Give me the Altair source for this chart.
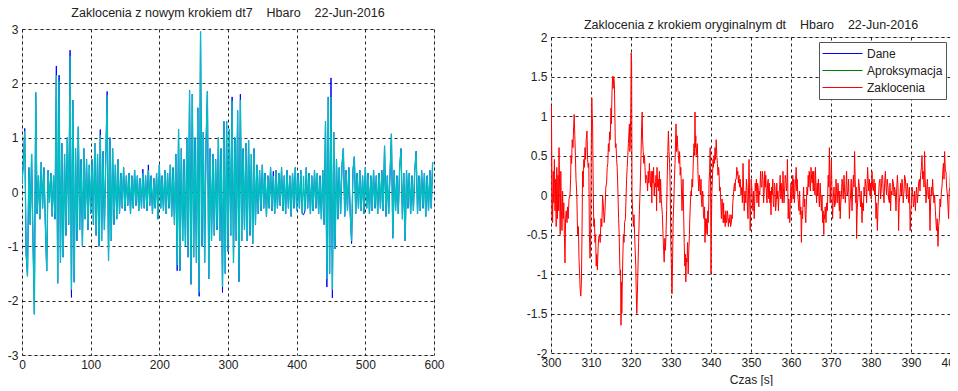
import altair as alt
import pandas as pd

# ---------------- left panel: disturbance with new step dt7 (2 s sampling) ----------------
krok_l = 2
zakl_nowy = [
    0.15, 0.55, 1.12, -1.1, -1.55, 0.45, -0.6, 0.7, -0.9, -2.25,
    1.83, -0.4, 0.3, -0.5, 0.55, -0.3, 0.45, -0.6, -1.45, 0.4,
    -0.2, 0.35, -0.45, 0.3, -0.5, 2.15, -1.68, 2.05, -1.3, 0.9,
    -1.2, 0.7, -0.8, 1.0, -0.6, 2.5, -1.8, 1.69, -1.66, 0.8,
    -0.9, 1.2, -0.7, 0.6, -1.0, 0.8, -0.5, 0.6, -0.7, 0.5,
    -0.4, 0.6, -0.6, 0.9, -0.8, 0.7, -1.0, 1.05, -0.9, 0.75,
    -0.7, 0.6, 1.78, -1.27, 1.0, -0.9, 0.8, -0.6, 0.5, -0.5,
    0.6, -0.4, 0.35, -0.3, 0.45, -0.35, 0.3, -0.25, 0.35, -0.4,
    0.3, -0.3, 0.4, -0.25, 0.3, -0.35, 0.25, -0.3, 0.35, -0.3,
    0.3, -0.35, 0.4, -0.25, 0.3, -0.4, 0.25, -0.3, 0.35, -0.5,
    0.5, -0.3, 0.3, -0.35, 0.4, -0.4, 0.35, -0.3, 0.5, -0.45,
    0.45, -0.6, 0.7, -1.35, 1.15, -1.45, 0.8, -0.9, 0.6, -1.0,
    1.0, -1.2, 1.87, -1.7, 1.8, -1.2, 1.0, -1.3, 1.55, -1.85,
    2.95, -1.0, 1.1, -1.3, 0.9, 1.85, -1.6, 0.8, -0.9, 0.7,
    -0.8, 0.6, -0.7, 1.0, -0.9, 0.8, -1.75, 1.3, -1.5, 1.3,
    -1.1, 1.15, -0.8, 1.68, -1.3, 1.0, -0.9, 1.5, -1.65, 1.7,
    -0.9, 0.8, -0.7, 0.9, -0.9, 0.95, -0.8, 0.7, -0.95, 0.8,
    -0.6, 0.5, -0.4, 0.4, -0.35, 0.5, -0.3, 0.35, -0.45, 0.3,
    -0.3, 0.45, -0.35, 0.3, -0.4, 0.4, -0.3, 0.35, -0.25, 0.45,
    -0.35, 0.3, -0.4, 0.4, -0.3, 0.3, -0.45, 0.35, -0.3, 0.45,
    -0.35, 0.35, -0.3, 0.4, -0.4, 0.3, -0.35, 0.45, -0.3, 0.35,
    -0.4, 0.3, -0.35, 0.4, -0.3, 0.35, -0.4, 0.3, -0.5, 0.4,
    -0.6, 1.3, -1.6, 1.75, -1.5, 1.75, -1.8, 1.1, -1.05, 0.6,
    -0.5, 0.45, -0.4, 0.5, 0.8, -0.45, 0.4, -0.35, 0.45, -0.4,
    -0.9, 0.4, 0.65, -0.4, 0.35, -0.3, 0.4, -0.35, 0.3, -0.4,
    0.45, -0.3, 0.35, -0.4, 0.3, -0.35, 0.4, -0.3, 0.3, -0.4,
    0.35, -0.3, 0.4, -0.35, 0.85, -0.45, 0.3, -0.4, 0.35, 1.07,
    -0.85, 0.4, -0.35, 0.3, -0.4, 0.45, 0.8, -0.5, 0.35, -0.9,
    0.4, -0.3, 0.35, -0.4, 0.3, -0.35, 0.4, 0.75, -0.4, 0.3,
    -0.35, 0.4, -0.3, 0.35, -0.45, 0.3, -0.35, 0.4, -0.3, 0.55,
]
# original data ("Dane", blue) differs from the cyan series only at these samples
dane_rozne = {
    2: 1.17, 3: -1.16, 25: 2.32, 27: 2.15, 35: 2.61, 36: -1.94,
    57: 1.15, 62: 1.85, 113: -1.45, 129: -1.92, 146: -1.85,
    153: 1.75, 159: 1.8, 222: -1.75, 225: 2.1, 226: -1.95,
    88: 0.42, 92: 0.5, 183: 0.38, 205: -0.42, 240: -0.95,
}

# ---------------- right panel: disturbance with original step dt (300-400 s) ----------------
zakl_300_333 = [
    (300.0, -0.3), (300.1, 1.13), (300.25, 0.1), (300.4, -0.35), (300.55, 0.3), (300.7, -0.1),
    (300.85, 0.45), (301.0, -0.2), (301.15, 0.2), (301.3, -0.4), (301.45, 0.35), (301.6, -0.3),
    (301.75, 0.25), (301.9, -0.2), (302.0, 0.6), (302.15, 0.1), (302.3, -0.5), (302.45, 0.3),
    (302.6, -0.2), (302.75, -0.45), (302.9, 0.05), (303.05, -0.3), (303.2, -0.1), (303.35, -0.5),
    (303.5, -0.86), (303.65, -0.3), (303.8, -0.2), (304.0, -0.35), (304.15, -0.15), (304.3, -0.3),
    (304.5, -0.05), (304.75, 0.0), (304.9, 0.2), (305.0, 0.5), (305.15, 0.4), (305.3, 0.7),
    (305.5, 0.6), (305.65, 0.85), (305.8, 1.02), (305.95, 0.75), (306.1, 0.5), (306.25, 0.2),
    (306.45, 0.0), (306.65, -0.5), (306.85, -0.4), (307.0, -0.8), (307.15, -1.0), (307.3, -1.2),
    (307.45, -1.28), (307.6, -1.1), (307.75, -0.5), (307.9, 0.3), (308.05, 0.1), (308.2, 0.45),
    (308.35, 0.35), (308.5, 0.6), (308.65, 0.45), (308.8, 0.7), (309.0, 0.81), (309.15, 0.45),
    (309.3, 0.35), (309.45, 0.4), (309.6, -0.5), (309.75, -0.8), (309.9, -0.6), (310.05, 0.5),
    (310.2, 1.23), (310.3, 1.0), (310.4, 0.9), (310.55, 0.1), (310.7, -0.4), (310.85, -0.3),
    (311.0, -0.6), (311.15, -0.5), (311.3, -0.9), (311.45, -0.75), (311.6, -0.95), (311.75, -0.7),
    (311.9, -0.55), (312.1, -0.5), (312.3, -0.6), (312.5, -0.3), (312.7, -0.4), (312.9, 0.0),
    (313.1, -0.15), (313.3, -0.35), (313.5, -0.2), (313.7, 0.1), (313.9, 0.15), (314.05, 0.35),
    (314.2, 0.4), (314.35, 0.65), (314.5, 0.55), (314.65, 0.8), (314.8, 0.7), (315.0, 1.1),
    (315.1, 0.9), (315.25, 1.3), (315.4, 1.5), (315.55, 1.35), (315.7, 1.5), (315.85, 1.4),
    (316.0, 0.9), (316.1, 0.6), (316.25, 0.65), (316.4, 0.45), (316.55, 0.35), (316.75, 0.0),
    (316.9, -0.3), (317.05, -0.5), (317.2, -0.9), (317.3, -1.0), (317.4, -0.95), (317.5, -1.65),
    (317.6, -1.1), (317.7, -1.5), (317.8, -1.2), (317.95, -0.8), (318.1, -0.5), (318.25, -0.6),
    (318.4, -0.35), (318.6, -0.3), (318.75, -0.05), (318.9, 0.2), (319.05, 0.35), (319.2, 0.5),
    (319.35, 0.65), (319.5, 0.8), (319.6, 0.9), (319.7, 0.55), (319.8, 0.6), (319.95, 1.1),
    (320.05, 1.8), (320.15, 1.7), (320.25, 0.0), (320.4, -0.2), (320.6, -0.4), (320.75, -0.25),
    (320.9, -0.5), (321.05, -0.7), (321.2, -0.9), (321.3, -1.2), (321.45, -1.5), (321.6, -1.25),
    (321.75, -0.9), (321.9, -0.6), (322.1, -0.2), (322.3, 0.1), (322.5, 0.5), (322.65, 0.85),
    (322.8, 1.05), (322.9, 0.7), (323.05, 0.55), (323.2, 0.4), (323.35, 0.5), (323.5, 0.35),
    (323.65, 0.15), (323.8, 0.25), (324.0, 0.2), (324.15, 0.05), (324.3, 0.3), (324.45, 0.15),
    (324.6, 0.4), (324.75, 0.2), (324.9, 0.1), (325.05, 0.3), (325.2, -0.1), (325.35, 0.3),
    (325.5, 0.15), (325.65, 0.35), (325.8, 0.0), (325.95, 0.15), (326.1, 0.1), (326.25, 0.25),
    (326.4, -0.2), (326.5, 0.35), (326.65, 0.1), (326.8, 0.2), (326.95, 0.05), (327.1, 0.3),
    (327.25, -0.1), (327.4, 0.2), (327.55, -0.05), (327.7, -0.15), (327.85, -0.25), (328.0, -0.5),
    (328.15, -0.7), (328.3, -0.85), (328.45, -0.55), (328.6, -0.7), (328.75, -0.5), (328.9, -0.2),
    (329.05, 0.2), (329.2, 0.55), (329.35, 0.81), (329.5, 0.55), (329.65, 0.4), (329.8, 0.1),
    (329.95, -0.6), (330.1, -0.9), (330.25, -1.25), (330.4, -0.8), (330.55, -0.3), (330.7, -0.1),
    (330.85, 0.2), (331.0, 0.4), (331.15, 0.7), (331.25, 0.9), (331.4, 0.55), (331.55, 0.75),
    (331.7, 0.6), (331.85, 0.5), (332.0, 0.4), (332.15, 0.55), (332.3, 0.25), (332.45, 0.35),
    (332.6, 0.1), (332.75, -0.2), (332.9, 0.0),
]
zakl_333_366 = [
    (333.0, 0.2), (333.15, -0.2), (333.3, -0.6), (333.45, -0.9), (333.6, -0.75), (333.7, -1.1),
    (333.85, -0.8), (334.0, -0.85), (334.15, -0.6), (334.3, -1.0), (334.45, -0.7), (334.6, -0.5),
    (334.7, -0.3), (334.85, -0.1), (335.0, 0.05), (335.1, 0.0), (335.25, 0.2), (335.4, 0.1),
    (335.5, 0.3), (335.65, 0.55), (335.75, 0.65), (335.9, 0.5), (336.0, 1.05), (336.1, 0.6),
    (336.2, 0.75), (336.3, 0.5), (336.45, 0.6), (336.6, 0.65), (336.7, 0.35), (336.8, 0.2),
    (336.95, 0.05), (337.1, 0.25), (337.2, 0.15), (337.35, 0.0), (337.5, 0.2), (337.6, -0.05),
    (337.75, -0.15), (337.9, 0.05), (338.0, 0.0), (338.1, -0.25), (338.25, -0.3), (338.4, -0.15),
    (338.5, -0.6), (338.6, -0.3), (338.7, -0.5), (338.8, -0.3), (338.95, -0.45), (339.1, -0.5),
    (339.2, -0.2), (339.3, -0.35), (339.45, -0.1), (339.5, 0.15), (339.65, 0.3), (339.8, 0.6),
    (339.9, 0.1), (340.0, -1.0), (340.1, -0.4), (340.2, 0.0), (340.35, 0.2), (340.5, 0.45),
    (340.6, 0.35), (340.75, 0.5), (340.9, 0.4), (341.0, 0.6), (341.15, 0.45), (341.3, 0.7),
    (341.45, 0.5), (341.6, 0.4), (341.75, 0.25), (341.9, 0.35), (342.0, 0.3), (342.15, 0.05),
    (342.3, 0.1), (342.45, -0.1), (342.6, -0.3), (342.75, -0.05), (342.9, -0.15), (343.05, -0.35),
    (343.15, -0.1), (343.25, -0.35), (343.4, -0.25), (343.55, -0.4), (343.7, -0.2), (343.85, -0.35),
    (344.0, -0.3), (344.1, -0.2), (344.2, -0.25), (344.35, -0.4), (344.5, -0.3), (344.6, -0.35),
    (344.75, -0.25), (344.9, -0.4), (345.1, -0.35), (345.2, -0.25), (345.3, -0.3), (345.45, -0.1),
    (345.6, 0.0), (345.75, 0.1), (345.9, 0.15), (346.0, 0.05), (346.15, 0.2), (346.3, 0.2),
    (346.45, 0.35), (346.6, 0.25), (346.7, 0.3), (346.85, 0.15), (347.0, 0.25), (347.15, 0.1),
    (347.3, 0.2), (347.5, 0.0), (347.7, 0.1), (347.85, -0.1), (348.0, 0.4), (348.15, 0.1),
    (348.3, -0.2), (348.5, 0.05), (348.7, -0.1), (348.85, 0.2), (349.0, 0.1), (349.1, -0.15),
    (349.25, -0.3), (349.4, 0.1), (349.5, 0.45), (349.65, 0.0), (349.8, -0.45), (349.95, -0.1),
    (350.05, 0.2), (350.2, 0.1), (350.35, -0.1), (350.5, -0.2), (350.65, 0.05), (350.8, -0.3),
    (350.95, -0.05), (351.05, 0.15), (351.2, 0.05), (351.35, 0.2), (351.5, -0.1), (351.65, 0.15),
    (351.8, 0.1), (351.95, -0.15), (352.05, 0.05), (352.2, 0.0), (352.3, 0.15), (352.4, 0.3),
    (352.55, 0.1), (352.7, 0.1), (352.85, 0.3), (353.0, 0.2), (353.15, -0.1), (353.3, 0.05),
    (353.45, 0.3), (353.55, 0.1), (353.7, 0.25), (353.85, 0.0), (354.0, -0.1), (354.15, 0.15),
    (354.3, 0.2), (354.45, -0.05), (354.55, 0.15), (354.7, -0.1), (354.85, 0.05), (355.0, -0.25),
    (355.15, 0.1), (355.3, 0.0), (355.45, 0.2), (355.55, -0.1), (355.7, -0.15), (355.85, 0.15),
    (356.0, 0.1), (356.15, -0.2), (356.3, -0.1), (356.45, 0.15), (356.55, -0.05), (356.7, 0.05),
    (356.85, -0.2), (357.0, 0.0), (357.15, 0.1), (357.3, 0.25), (357.45, -0.05), (357.55, 0.15),
    (357.7, 0.0), (357.85, -0.1), (358.0, 0.3), (358.1, 0.1), (358.25, -0.1), (358.4, 0.05),
    (358.55, 0.25), (358.7, 0.2), (358.85, 0.05), (359.0, 0.15), (359.1, 0.45), (359.2, 0.1),
    (359.3, -0.3), (359.45, -0.05), (359.55, -0.2), (359.7, -0.35), (359.85, -0.05), (360.0, 0.15),
    (360.15, -0.1), (360.3, 0.05), (360.45, 0.25), (360.55, -0.05), (360.7, 0.2), (360.85, -0.1),
    (361.0, 0.05), (361.15, 0.2), (361.3, 0.35), (361.45, 0.05), (361.55, 0.2), (361.7, 0.0),
    (361.85, -0.1), (362.0, -0.2), (362.15, 0.05), (362.3, -0.25), (362.45, -0.15), (362.6, -0.6),
    (362.75, -0.2), (362.9, -0.3), (363.0, -0.1), (363.15, 0.1), (363.3, -0.15), (363.45, -0.05),
    (363.55, -0.25), (363.7, -0.35), (363.85, -0.1), (364.0, 0.1), (364.15, 0.0), (364.3, 0.25),
    (364.45, 0.1), (364.55, 0.3), (364.7, 0.2), (364.85, 0.05), (365.0, 0.35), (365.15, 0.2),
    (365.3, 0.15), (365.45, 0.3), (365.55, 0.05), (365.7, 0.3), (365.85, 0.1), (366.0, 0.0),
]
zakl_366_400 = [
    (366.1, 0.35), (366.25, 0.1), (366.4, -0.1), (366.55, 0.15), (366.7, 0.0), (366.85, 0.2),
    (367.0, -0.05), (367.1, -0.15), (367.3, 0.15), (367.45, -0.05), (367.6, -0.2), (367.75, 0.0),
    (367.9, -0.35), (368.05, -0.2), (368.2, -0.5), (368.3, -0.25), (368.4, -0.3), (368.55, -0.15),
    (368.75, -0.35), (368.9, -0.1), (369.1, -0.2), (369.2, 0.05), (369.3, 0.25), (369.45, 0.1),
    (369.6, 0.6), (369.7, 0.2), (369.8, -0.1), (369.95, 0.15), (370.1, 0.45), (370.25, 0.0),
    (370.4, -0.3), (370.55, -0.05), (370.75, 0.1), (370.9, -0.15), (371.1, -0.1), (371.25, 0.2),
    (371.4, 0.05), (371.55, -0.1), (371.75, 0.15), (371.9, 0.0), (372.1, -0.2), (372.2, 0.05),
    (372.3, -0.3), (372.45, -0.1), (372.6, 0.0), (372.75, 0.2), (372.9, 0.15), (373.05, -0.05),
    (373.25, 0.25), (373.4, 0.05), (373.6, -0.1), (373.75, 0.1), (373.9, 0.3), (374.05, 0.0),
    (374.25, 0.05), (374.4, 0.2), (374.6, -0.3), (374.75, -0.1), (374.9, 0.0), (375.05, 0.2),
    (375.25, -0.2), (375.4, 0.05), (375.6, 0.25), (375.75, 0.1), (375.9, 0.55), (376.05, 0.2),
    (376.2, -0.1), (376.3, 0.1), (376.4, -0.55), (376.55, -0.2), (376.75, 0.0), (376.9, 0.2),
    (377.1, 0.1), (377.25, -0.05), (377.4, -0.15), (377.55, 0.05), (377.75, -0.35), (377.9, -0.1),
    (378.1, -0.2), (378.25, 0.1), (378.4, 0.0), (378.55, 0.2), (378.75, 0.1), (378.9, -0.1),
    (379.0, 0.1), (379.15, 0.35), (379.25, 0.25), (379.4, 0.05), (379.6, 0.2), (379.75, 0.0),
    (379.9, 0.15), (380.05, -0.05), (380.25, 0.3), (380.4, 0.1), (380.6, 0.05), (380.75, 0.2),
    (380.9, 0.0), (381.05, 0.15), (381.25, -0.3), (381.4, -0.1), (381.6, -0.45), (381.75, -0.15),
    (381.9, 0.0), (382.05, 0.15), (382.25, 0.2), (382.4, -0.05), (382.6, 0.1), (382.75, 0.25),
    (382.9, 0.25), (383.05, 0.05), (383.25, -0.1), (383.4, 0.15), (383.6, 0.3), (383.75, 0.1),
    (383.9, 0.0), (384.05, 0.2), (384.25, 0.1), (384.4, -0.05), (384.6, -0.1), (384.75, 0.15),
    (384.9, -0.2), (385.05, 0.05), (385.25, 0.0), (385.4, 0.2), (385.6, 0.15), (385.75, 0.0),
    (385.9, 0.1), (386.05, 0.05), (386.25, -0.2), (386.4, 0.05), (386.6, 0.25), (386.75, 0.1),
    (386.9, -0.45), (387.05, -0.1), (387.25, 0.0), (387.4, 0.15), (387.6, 0.0), (387.75, 0.2),
    (387.9, 0.1), (388.05, -0.1), (388.25, 0.05), (388.4, 0.25), (388.6, 0.2), (388.75, 0.05),
    (388.9, -0.05), (389.05, 0.15), (389.25, 0.05), (389.4, -0.1), (389.6, 0.1), (389.7, -0.2),
    (389.8, -0.45), (389.95, -0.2), (390.1, -0.1), (390.25, 0.1), (390.4, 0.05), (390.6, -0.15),
    (390.75, -0.1), (390.9, 0.05), (391.1, -0.2), (391.25, 0.0), (391.4, 0.1), (391.6, -0.1),
    (391.75, 0.0), (391.9, 0.15), (392.1, 0.2), (392.25, 0.05), (392.4, 0.25), (392.6, 0.35),
    (392.75, 0.5), (392.9, 0.2), (393.1, 0.3), (393.25, 0.1), (393.4, 0.55), (393.55, 0.2),
    (393.75, -0.1), (393.9, 0.05), (394.1, 0.2), (394.25, 0.0), (394.4, -0.05), (394.55, 0.1),
    (394.75, -0.45), (394.9, -0.1), (395.1, 0.1), (395.25, 0.0), (395.4, 0.2), (395.55, 0.05),
    (395.75, -0.1), (395.9, 0.0), (396.1, -0.2), (396.25, -0.35), (396.4, -0.45), (396.55, -0.3),
    (396.75, -0.65), (396.9, -0.4), (397.1, -0.3), (397.25, -0.05), (397.4, -0.15), (397.6, 0.05),
    (397.75, 0.1), (397.9, 0.25), (398.1, 0.4), (398.25, 0.2), (398.4, 0.55), (398.6, 0.3),
    (398.75, 0.3), (398.9, 0.1), (399.1, 0.0), (399.25, -0.15), (399.4, -0.3), (399.55, 0.05),
    (399.75, 0.1), (399.9, 0.4), (400.0, -0.35),
]

serie = ["Dane", "Aproksymacja", "Zaklocenia"]
kolory = ["#0000FF", "#008000", "#FF0000"]
tytul_l = "Zaklocenia z nowym krokiem dt7\u00a0\u00a0\u00a0\u00a0Hbaro\u00a0\u00a0\u00a0\u00a022-Jun-2016"
tytul_p = "Zaklocenia z krokiem oryginalnym dt\u00a0\u00a0\u00a0\u00a0Hbaro\u00a0\u00a0\u00a0\u00a022-Jun-2016"

# ---------------- tables ----------------
dane = list(zakl_nowy)
for i, v in dane_rozne.items():
    dane[i] = v
df_l = pd.DataFrame({
    "t": [krok_l * i for i in range(len(zakl_nowy))],
    "zakl": zakl_nowy,
    "dane": dane,
})
pary = zakl_300_333 + zakl_333_366 + zakl_366_400
df_r = pd.DataFrame({
    "t": [p[0] for p in pary],
    "v": [p[1] for p in pary],
    "seria": ["Zaklocenia"] * len(pary),
})

FONT = "Liberation Sans"
TXT = "#222222"

def ax(values, title=None):
    kw = dict(
        values=values, grid=True, ticks=False, domain=False,
        gridColor="#000000", gridDash=[3, 3], gridOpacity=0.85, gridWidth=1,
        labelFont=FONT, labelFontSize=12, labelColor=TXT, labelPadding=4,
        labelExpr="'' + datum.value", labelFlush=False, labelOverlap=False,
    )
    if title is not None:
        kw.update(title=title, titleFont=FONT, titleFontSize=12, titleFontWeight="normal",
                  titleColor=TXT, titlePadding=6)
    else:
        kw.update(title=None)
    return alt.Axis(**kw)

def tytul(text, dy=0):
    return alt.Title(text, font=FONT, fontSize=12.5, fontWeight="normal", color=TXT,
                     anchor="middle", offset=4, dy=dy)

xl = alt.X("t:Q", scale=alt.Scale(domain=[0, 600], nice=False, zero=False),
           axis=ax(list(range(0, 601, 100))))
yl_scale = alt.Scale(domain=[-3, 3], nice=False)

blue = alt.Chart(df_l).mark_line(color="#0000FF", strokeWidth=1, clip=True).encode(
    x=xl, y=alt.Y("dane:Q", scale=yl_scale, axis=ax(list(range(-3, 4)))))
cyan = alt.Chart(df_l).mark_line(color="#00BFBF", strokeWidth=1.3, clip=True).encode(
    x=xl, y=alt.Y("zakl:Q", scale=yl_scale, axis=ax(list(range(-3, 4)))))

left = alt.layer(blue, cyan).properties(width=412, height=326, title=tytul(tytul_l))

xr = alt.X("t:Q", scale=alt.Scale(domain=[300, 400], nice=False, zero=False),
           axis=ax(list(range(300, 401, 10)), title="Czas [s]"))
right = alt.Chart(df_r).mark_line(strokeWidth=1, clip=True).encode(
    x=xr,
    y=alt.Y("v:Q", scale=alt.Scale(domain=[-2, 2], nice=False),
            axis=ax([-2, -1.5, -1, -0.5, 0, 0.5, 1, 1.5, 2])),
    color=alt.Color("seria:N", scale=alt.Scale(domain=serie, range=kolory),
                    legend=alt.Legend(title=None, orient="top-right", offset=5,
                                      fillColor="white", strokeColor="#555555",
                                      padding=3, symbolType="stroke", symbolSize=1600,
                                      symbolStrokeWidth=1, labelFont=FONT,
                                      labelFontSize=12, labelColor=TXT, rowPadding=0,
                                      clipHeight=17, labelOffset=4)),
).properties(width=400, height=316)

# thin empty strip carrying the right title; it pushes the right panel a few px lower
pasek = alt.Chart(pd.DataFrame({"a": [0]})).mark_point(opacity=0).encode(
    x=alt.X("a:Q", axis=None), y=alt.Y("a:Q", axis=None)
).properties(width=400, height=1, view=alt.ViewBackground(strokeOpacity=0),
             title=tytul(tytul_p, dy=9))

right_col = alt.vconcat(pasek, right, spacing=-3).resolve_scale(
    color="independent").resolve_legend(color="independent")

chart = alt.hconcat(left, right_col, spacing=80).resolve_scale(
    color="independent").resolve_legend(color="independent").properties(
    padding={"left": 6, "top": 6, "right": -12, "bottom": 0},
).configure_view(stroke="#555555", strokeWidth=1.2).configure(background="white")

chart.save("out.html", embed_options={"renderer": "svg", "actions": False})
